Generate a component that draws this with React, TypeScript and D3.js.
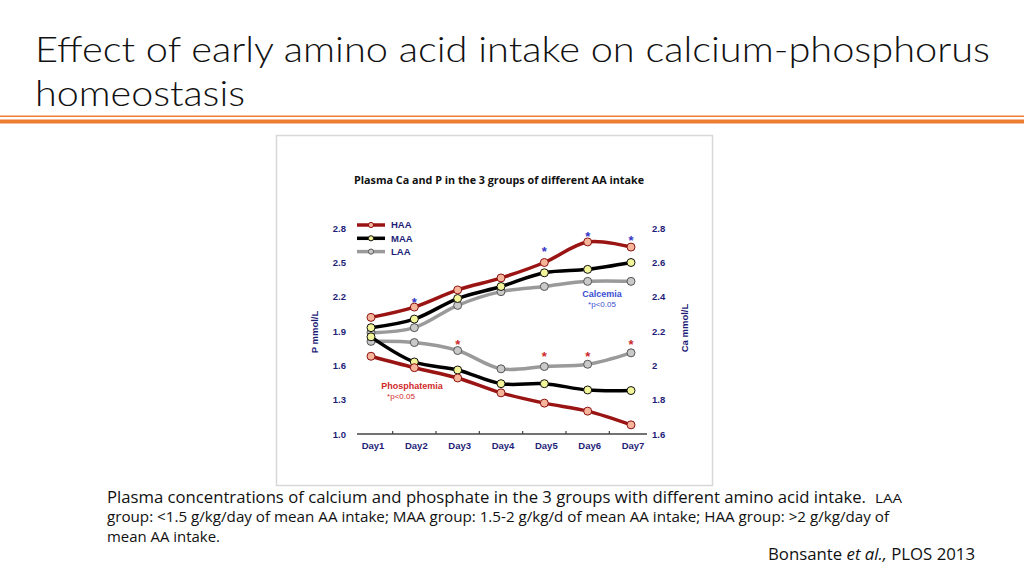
import React from "react";
import * as d3 from "d3";

const days = ["Day1", "Day2", "Day3", "Day4", "Day5", "Day6", "Day7"];
const caHAA = [2.28, 2.34, 2.44, 2.51, 2.6, 2.72, 2.69];
const caMAA = [2.22, 2.27, 2.39, 2.46, 2.54, 2.56, 2.6];
const caLAA = [2.19, 2.22, 2.35, 2.43, 2.46, 2.49, 2.49];
const pHAA = [1.68, 1.58, 1.49, 1.36, 1.27, 1.2, 1.08];
const pMAA = [1.85, 1.63, 1.56, 1.44, 1.44, 1.385, 1.38];
const pLAA = [1.81, 1.8, 1.73, 1.57, 1.59, 1.61, 1.71];
const pTicks = [1.0, 1.3, 1.6, 1.9, 2.2, 2.5, 2.8];
const caTicks = [1.6, 1.8, 2.0, 2.2, 2.4, 2.6, 2.8];
const caStarDays = ["Day2", "Day5", "Day6", "Day7"];
const caStarVals = [2.39, 2.685, 2.77, 2.75];
const pStarDays = ["Day3", "Day5", "Day6", "Day7"];
const pStarVals = [1.813, 1.711, 1.711, 1.813];
const groups = ["HAA", "MAA", "LAA"];

const styles: Record<string, { line: string; fill: string; stroke: string }> = {
  HAA: { line: "#9a1414", fill: "#f6b59a", stroke: "#8a1010" },
  MAA: { line: "#000000", fill: "#f3f59a", stroke: "#111111" },
  LAA: { line: "#9a9a9a", fill: "#c9c9c9", stroke: "#555555" },
};

const navy = "#1e1e78";

export default function App() {
  const x = d3.scalePoint<string>().domain(days).range([371, 631]);
  const yP = d3.scaleLinear().domain([1.0, 2.8]).range([434, 228.2]);
  const yCa = d3.scaleLinear().domain([1.6, 2.8]).range([434, 228.2]);

  const mk = (vals: number[], y: d3.ScaleLinear<number, number>) =>
    d3
      .line<number>()
      .x((_, i) => x(days[i]) as number)
      .y((v) => y(v))
      .curve(d3.curveCatmullRom.alpha(0.5))(vals) as string;

  const series = [
    { g: "LAA", vals: caLAA, y: yCa },
    { g: "MAA", vals: caMAA, y: yCa },
    { g: "HAA", vals: caHAA, y: yCa },
    { g: "LAA", vals: pLAA, y: yP },
    { g: "MAA", vals: pMAA, y: yP },
    { g: "HAA", vals: pHAA, y: yP },
  ];

  const step = x.step();
  const midTicks = days.slice(1).map((d) => (x(d) as number) - step / 2);

  return (
    <svg width={1024} height={576} style={{ position: "absolute", left: 0, top: 0, background: "#fff" }}>
      <rect x={0} y={0} width={1024} height={576} fill="#fff" />
      {/* Slide title */}
      <g fontFamily="Lato, 'Open Sans', sans-serif" fontWeight={300} fill="#111">
        <text x={35} y={62} fontSize={36} textLength={955} lengthAdjust="spacingAndGlyphs">
          Effect of early amino acid intake on calcium-phosphorus
        </text>
        <text x={35} y={106} fontSize={36} textLength={210} lengthAdjust="spacingAndGlyphs">
          homeostasis
        </text>
      </g>
      <rect x={0} y={115.5} width={1024} height={1.5} fill="#ed7d31" />
      <rect x={0} y={119.5} width={1024} height={4} fill="#ed7d31" />

      {/* chart panel */}
      <rect x={276.5} y={135.5} width={436} height={350} fill="#fff" stroke="#d8d8d8" strokeWidth={1.5} />
      <text
        x={499}
        y={184}
        textAnchor="middle"
        fontFamily="'Open Sans', 'Liberation Sans', sans-serif"
        fontWeight={700}
        fontSize={11}
        fill="#111"
        textLength={290}
        lengthAdjust="spacingAndGlyphs"
      >
        Plasma Ca and P in the 3 groups of different AA intake
      </text>

      <g fontFamily="'Liberation Sans', Arial, sans-serif" fontWeight={700} fontSize={9.5} fill={navy}>
        {pTicks.map((t) => (
          <text key={"p" + t} x={346} y={yP(t) + 3.5} textAnchor="end">
            {t.toFixed(1)}
          </text>
        ))}
        {caTicks.map((t) => (
          <text key={"c" + t} x={652} y={yCa(t) + 3.5} textAnchor="start">
            {t === 2 ? "2" : t.toFixed(1)}
          </text>
        ))}
        {days.map((d) => (
          <text key={d} x={(x(d) as number) + 2} y={449} textAnchor="middle" fontSize={9.5}>
            {d}
          </text>
        ))}
        <text transform="translate(318,332) rotate(-90)" textAnchor="middle" fontSize={9.5}>
          P mmol/L
        </text>
        <text transform="translate(688,328) rotate(-90)" textAnchor="middle" fontSize={9.5}>
          Ca mmol/L
        </text>
      </g>

      {/* x axis */}
      <line x1={357} x2={647} y1={434} y2={434} stroke="#444" strokeWidth={1.5} />
      {midTicks.map((t, i) => (
        <line key={i} x1={t} x2={t} y1={434} y2={431} stroke="#444" strokeWidth={1.2} />
      ))}

      {/* series */}
      {series.map((s, i) => (
        <g key={i}>
          <path d={mk(s.vals, s.y)} fill="none" stroke={styles[s.g].line} strokeWidth={3.5} strokeLinejoin="round" />
          {s.vals.map((v, j) => (
            <circle
              key={j}
              cx={x(days[j]) as number}
              cy={s.y(v)}
              r={4}
              fill={styles[s.g].fill}
              stroke={styles[s.g].stroke}
              strokeWidth={1}
            />
          ))}
        </g>
      ))}

      {/* legend */}
      {groups.map((g, i) => {
        const ly = 225 + i * 13.3;
        return (
          <g key={g}>
            <line x1={357} x2={385} y1={ly} y2={ly} stroke={styles[g].line} strokeWidth={3.5} />
            <circle cx={371} cy={ly} r={2.6} fill={styles[g].fill} stroke={styles[g].stroke} strokeWidth={1} />
            <text
              x={391}
              y={ly + 3.3}
              fontFamily="'Liberation Sans', Arial, sans-serif"
              fontWeight={700}
              fontSize={9.5}
              fill={navy}
            >
              {g}
            </text>
          </g>
        );
      })}

      {/* stars */}
      <g fontFamily="'Liberation Sans', Arial, sans-serif" fontSize={13} fontWeight={700}>
        {caStarDays.map((d, i) => (
          <text key={"cs" + d} x={x(d) as number} y={yCa(caStarVals[i]) + 8} textAnchor="middle" fill="#3535c8">
            *
          </text>
        ))}
        {pStarDays.map((d, i) => (
          <text key={"ps" + d} x={x(d) as number} y={yP(pStarVals[i]) + 8} textAnchor="middle" fill="#cc2a2a">
            *
          </text>
        ))}
      </g>

      {/* annotations */}
      <g fontFamily="'Liberation Sans', Arial, sans-serif">
        <text x={602} y={296.5} textAnchor="middle" fontSize={9} fontWeight={700} fill="#3a4fd0">
          Calcemia
        </text>
        <text x={602} y={307} textAnchor="middle" fontSize={8} fill="#3a4fd0">
          *p&lt;0.05
        </text>
        <text x={412} y={388.5} textAnchor="middle" fontSize={9} fontWeight={700} fill="#d02a2a">
          Phosphatemia
        </text>
        <text x={401} y={399} textAnchor="middle" fontSize={8} fill="#d02a2a">
          *p&lt;0.05
        </text>
      </g>

      {/* caption */}
      <g fontFamily="'Open Sans', Lato, sans-serif" fill="#111">
        <text x={107} y={503} fontSize={16} textLength={759} lengthAdjust="spacingAndGlyphs">
          Plasma concentrations of calcium and phosphate in the 3 groups with different amino acid intake.
        </text>
        <text x={875} y={503} fontSize={13.5} textLength={27} lengthAdjust="spacingAndGlyphs">
          LAA
        </text>
        <text x={107} y={522} fontSize={14} textLength={782} lengthAdjust="spacingAndGlyphs">
          group: &lt;1.5 g/kg/day of mean AA intake; MAA group: 1.5-2 g/kg/d of mean AA intake; HAA group: &gt;2 g/kg/day of
        </text>
        <text x={107} y={542} fontSize={14} textLength={113} lengthAdjust="spacingAndGlyphs">
          mean AA intake.
        </text>
        <text x={768} y={560} fontSize={16} textLength={207} lengthAdjust="spacingAndGlyphs">
          Bonsante <tspan fontStyle="italic">et al.,</tspan> PLOS 2013
        </text>
      </g>
    </svg>
  );
}
